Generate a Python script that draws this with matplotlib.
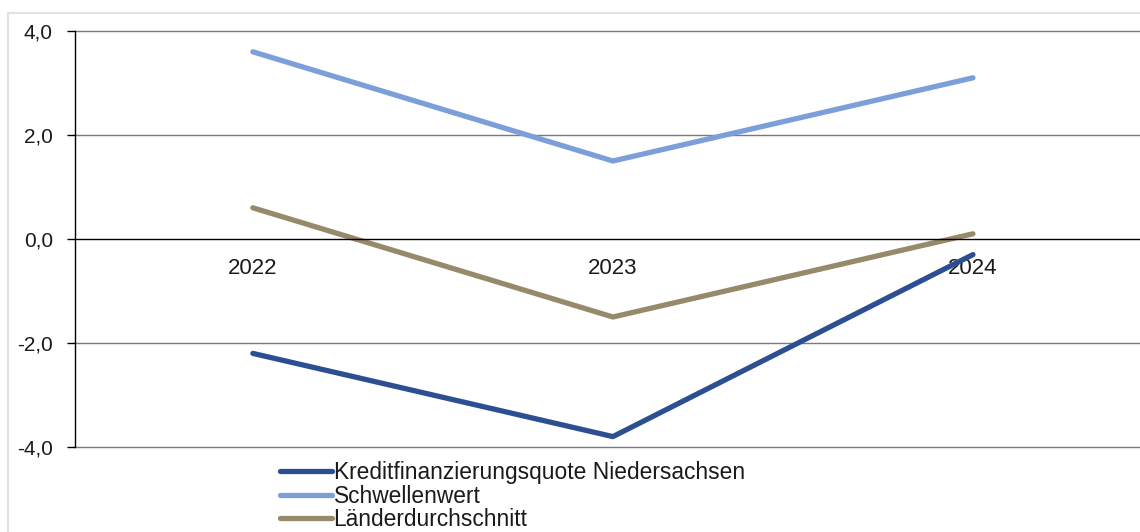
import matplotlib
matplotlib.use("Agg")
import matplotlib.pyplot as plt
from matplotlib.patches import Rectangle

years = ["2022", "2023", "2024"]
kredit = [-2.2, -3.8, -0.3]
schwelle = [3.6, 1.5, 3.1]
laender = [0.6, -1.5, 0.1]
labels = ["Kreditfinanzierungsquote Niedersachsen", "Schwellenwert", "Länderdurchschnitt"]
colors = ["#2b4f90", "#7c9fda", "#978a6a"]
yticks = [-4.0, -2.0, 0.0, 2.0, 4.0]

plt.rcParams['font.family'] = ['Liberation Sans', 'DejaVu Sans']

fig = plt.figure(figsize=(11.4, 5.32), dpi=100)
fig.patches.append(Rectangle((8/1140, -0.1), 1.2, 1 - 13/532 + 0.1, transform=fig.transFigure,
                             fill=False, edgecolor="#e2e2e2", linewidth=1.5))
ax = fig.add_axes([75/1140, 1 - 447/532, 1 - 75/1140, (447 - 31)/532])

x = list(range(len(years)))
for vals, lab, c in zip([kredit, schwelle, laender], labels, colors):
    ax.plot(x, vals, color=c, linewidth=3.8, label=lab, solid_capstyle="round")

ax.set_xlim(-0.494, 2.464)
ax.set_ylim(-4, 4)
ax.set_yticks(yticks)
ax.set_yticklabels([f"{v:.1f}".replace(".", ",") for v in yticks], fontsize=15)
for v in yticks:
    if v != 0:
        ax.axhline(v, color="#7a7a7a", linewidth=1.0, zorder=0, clip_on=False)
ax.spines['top'].set_visible(False)
ax.spines['right'].set_visible(False)
ax.spines['bottom'].set_position(('data', 0))
ax.spines['bottom'].set_color("black")
ax.spines['bottom'].set_linewidth(1.0)
ax.spines['left'].set_color("black")
ax.spines['left'].set_linewidth(1.0)
ax.tick_params(axis='y', direction='out', length=6, width=1, pad=10, colors="black", labelcolor="#1a1a1a")
ax.set_xticks(x)
ax.set_xticklabels(years, fontsize=16)
ax.tick_params(axis='x', length=0, pad=14, labelcolor="#1a1a1a")

leg = fig.legend(loc="upper left", bbox_to_anchor=(280/1140, 1 - 461/532), frameon=False,
                 fontsize=16.4, handlelength=2.3, handletextpad=0.05, labelspacing=0.03,
                 borderpad=0, borderaxespad=0)
for t in leg.get_texts():
    t.set_color("#1a1a1a")

fig.savefig("out.png", dpi=100)
